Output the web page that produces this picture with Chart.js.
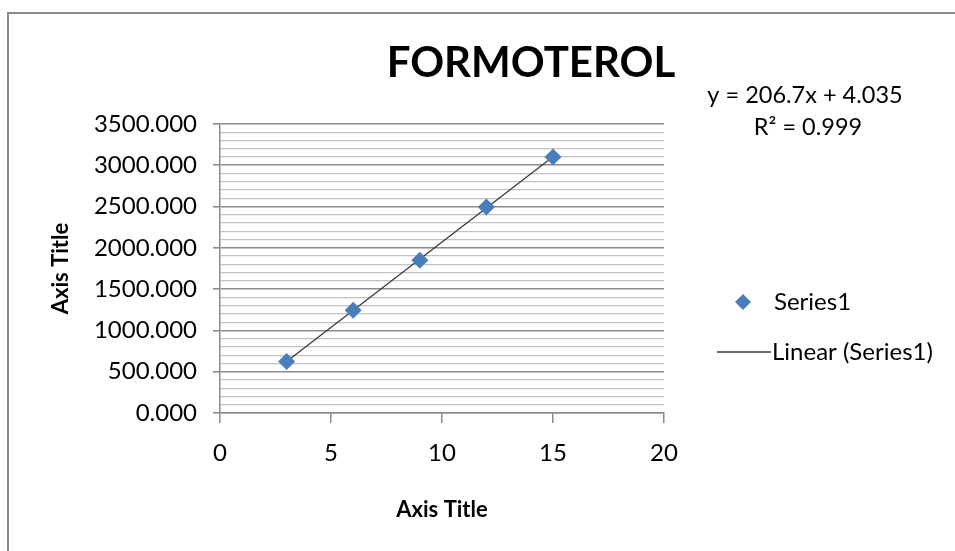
<!DOCTYPE html>
<html>
<head>
<meta charset="utf-8">
<script src="https://cdn.jsdelivr.net/npm/chart.js@4.4.1/dist/chart.umd.min.js"></script>
<style>
  html, body { margin: 0; padding: 0; background: #fff; }
  #wrap { position: relative; width: 955px; height: 551px; overflow: hidden; }
  #frame { position: absolute; left: 7px; top: 12px; width: 1000px; height: 600px;
           border-left: 2px solid #8a8a8a; border-top: 2px solid #8a8a8a; box-sizing: border-box; }
  canvas { position: absolute; left: 0; top: 0; }
</style>
</head>
<body>
<div id="wrap">
  <div id="frame"></div>
  <canvas id="c" width="955" height="551"></canvas>
</div>
<script>
// Calibration data: concentration vs. peak response
const concentrations = [3, 6, 9, 12, 15];
const responses = [625, 1245, 1850, 2495, 3100];

// Linear fit reported for the series
const slope = 206.7;
const intercept = 4.035;
const rSquared = 0.999;

const chartTitle = 'FORMOTEROL';
const xAxisTitle = 'Axis Title';
const yAxisTitle = 'Axis Title';
const seriesName = 'Series1';
const trendName = 'Linear (Series1)';

const FONT = 'Lato, "Open Sans", sans-serif';
const BLUE = '#4a7ebb';

const fitPoints = [concentrations[0], concentrations[concentrations.length - 1]]
  .map(x => ({ x: x, y: slope * x + intercept }));

// Title, axis titles, equation and legend drawn on the canvas
const annotations = {
  id: 'annotations',
  afterDraw(chart) {
    const ctx = chart.ctx;
    const ca = chart.chartArea;
    ctx.save();
    ctx.fillStyle = '#000';
    ctx.textBaseline = 'middle';

    ctx.font = 'bold 42px ' + FONT;
    ctx.textAlign = 'center';
    ctx.fillText(chartTitle, 531, 63);

    ctx.font = 'bold 22px ' + FONT;
    ctx.fillText(xAxisTitle, 442, 510);
    ctx.save();
    ctx.translate(61, (ca.top + ca.bottom) / 2);
    ctx.rotate(-Math.PI / 2);
    ctx.fillText(yAxisTitle, 0, 0);
    ctx.restore();

    ctx.font = '23.5px ' + FONT;
    ctx.textAlign = 'center';
    ctx.fillText('y = ' + slope + 'x + ' + intercept, 805, 95);
    ctx.fillText('R² = ' + rSquared, 808, 127);

    // legend
    ctx.textAlign = 'left';
    ctx.fillStyle = BLUE;
    ctx.beginPath();
    ctx.moveTo(743, 294); ctx.lineTo(751, 302); ctx.lineTo(743, 310); ctx.lineTo(735, 302);
    ctx.closePath();
    ctx.fill();
    ctx.fillStyle = '#000';
    ctx.font = '24px ' + FONT;
    ctx.fillText(seriesName, 774, 302);

    ctx.strokeStyle = '#3a3a3a';
    ctx.lineWidth = 1.3;
    ctx.beginPath();
    ctx.moveTo(717, 352); ctx.lineTo(771, 352);
    ctx.stroke();
    ctx.fillText(trendName, 772, 352);
    ctx.restore();
  }
};

new Chart(document.getElementById('c'), {
  type: 'scatter',
  data: {
    datasets: [
      {
        label: trendName,
        type: 'line',
        data: fitPoints,
        borderColor: '#3a3a3a',
        borderWidth: 1.3,
        pointRadius: 0,
        fill: false,
        order: 2
      },
      {
        label: seriesName,
        data: concentrations.map((x, i) => ({ x: x, y: responses[i] })),
        pointStyle: 'rectRot',
        pointRadius: 8.5,
        backgroundColor: BLUE,
        borderColor: BLUE,
        borderWidth: 0,
        order: 1
      }
    ]
  },
  options: {
    responsive: false,
    animation: false,
    layout: { padding: { left: 0, top: 124, right: 291, bottom: 0 } },
    plugins: {
      legend: { display: false },
      title: { display: false },
      tooltip: { enabled: false }
    },
    scales: {
      x: {
        type: 'linear',
        min: 0, max: 20,
        afterFit(s) { s.height = 138; },
        ticks: { stepSize: 5, color: '#000', font: { family: FONT, size: 24 }, padding: 16 },
        grid: { drawOnChartArea: false, tickLength: 10, color: '#8a8a8a', lineWidth: 1.5 },
        border: { color: '#8a8a8a', width: 1.5 }
      },
      y: {
        type: 'linear',
        min: 0, max: 3500,
        afterFit(s) { s.width = 220; },
        ticks: {
          stepSize: 100,
          autoSkip: false,
          color: '#000',
          font: { family: FONT, size: 24 },
          padding: 16,
          callback: v => (v % 500 === 0 ? v.toFixed(3) : '')
        },
        grid: {
          tickLength: 7,
          color: c => (c.tick && c.tick.value % 500 === 0 ? '#8c8c8c' : '#c2c2c2'),
          lineWidth: c => (c.tick && c.tick.value % 500 === 0 ? 1.6 : 1.3),
          tickColor: c => (c.tick && c.tick.value % 500 === 0 ? '#8c8c8c' : 'rgba(0,0,0,0)')
        },
        border: { color: '#8a8a8a', width: 1.5 }
      }
    }
  },
  plugins: [annotations]
});
</script>
</body>
</html>
